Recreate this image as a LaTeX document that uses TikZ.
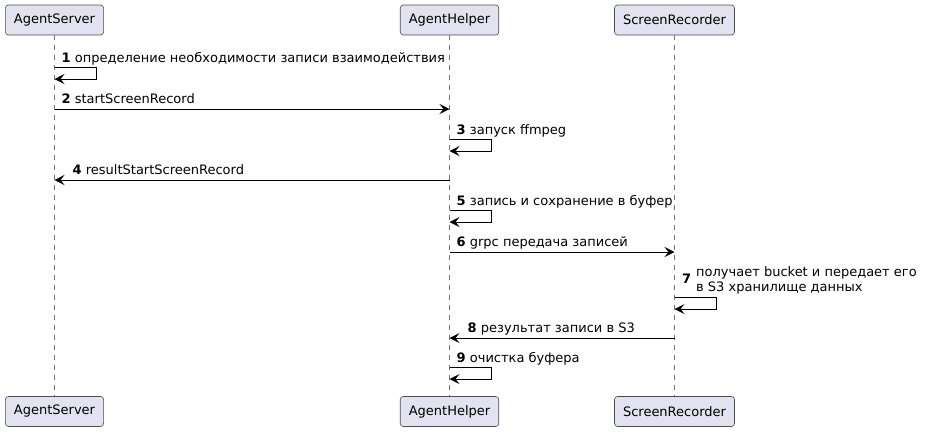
\documentclass[tikz,border=0pt]{standalone}
\usepackage{fontspec}
\setmainfont{DejaVu Sans}
\usetikzlibrary{arrows.meta}
\definecolor{boxfill}{HTML}{E2E2F0}
\tikzset{
  actor/.style={draw=black!70, line width=0.6pt, fill=boxfill, rounded corners=3pt,
    inner xsep=8.5pt, minimum height=30pt, font=\fontsize{13}{15}\selectfont},
  life/.style={black!55, line width=0.5pt, dash pattern=on 5pt off 5pt},
  msg/.style={-{Stealth[length=10pt,width=10pt,inset=4pt]}, line width=0.9pt},
  lbl/.style={font=\fontsize{13}{15}\selectfont, inner sep=0pt, anchor=base west}
}
\begin{document}
\begin{tikzpicture}[x=1pt,y=-1pt]
\useasboundingbox (0,0) rectangle (925,432);
\def\xs{54.5}
\def\xh{449.5}
\def\xr{674.5}

\def\ytop{20}
\def\ybot{411.5}

% participants
\node[actor] (st) at (\xs, \ytop) {AgentServer};
\node[actor] (ht) at (\xh, \ytop) {AgentHelper};
\node[actor] (rt) at (\xr, \ytop) {ScreenRecorder};
\node[actor] (sb) at (\xs, \ybot) {AgentServer};
\node[actor] (hb) at (\xh, \ybot) {AgentHelper};
\node[actor] (rb) at (\xr, \ybot) {ScreenRecorder};
\draw[life] (st) -- (sb);
\draw[life] (ht) -- (hb);
\draw[life] (rt) -- (rb);

% 1
\coordinate (a1) at (\xs, 67);
\coordinate (b1) at (\xs, 79);
\draw[msg] (a1) -- ++(42,0) |- (b1);
\node[lbl] (l1) at (\xs + 7, 62) {\textbf{1} определение необходимости записи взаимодействия};

% 2
\coordinate (a2) at (\xs, 109);
\coordinate (b2) at (\xh, 109);
\draw[msg] (a2) -- (b2);
\node[lbl] (l2) at (\xs + 7, 103) {\textbf{2} startScreenRecord};

% 3
\coordinate (a3) at (\xh, 139);
\coordinate (b3) at (\xh, 151);
\draw[msg] (a3) -- ++(42,0) |- (b3);
\node[lbl] (l3) at (\xh + 7, 134) {\textbf{3} запуск ffmpeg};

% 4
\coordinate (a4) at (\xh, 180);
\coordinate (b4) at (\xs, 180);
\draw[msg] (a4) -- (b4);
\node[lbl] (l4) at (\xs + 18, 174) {\textbf{4} resultStartScreenRecord};

% 5
\coordinate (a5) at (\xh, 210);
\coordinate (b5) at (\xh, 222);
\draw[msg] (a5) -- ++(42,0) |- (b5);
\node[lbl] (l5) at (\xh + 7, 205) {\textbf{5} запись и сохранение в буфер};

% 6
\coordinate (a6) at (\xh, 252);
\coordinate (b6) at (\xr, 252);
\draw[msg] (a6) -- (b6);
\node[lbl] (l6) at (\xh + 7, 246) {\textbf{6} grpc передача записей};

% 7
\coordinate (a7) at (\xr, 297);
\coordinate (b7) at (\xr, 309);
\draw[msg] (a7) -- ++(42,0) |- (b7);
\node[lbl] (l7) at (\xr + 7.5, 283.5) {\textbf{7}};
\node[lbl] (l7a) at (\xr + 21.5, 276.5) {получает bucket и передает его};
\node[lbl] (l7b) at (\xr + 21.5, 291) {в S3 хранилище данных};

% 8
\coordinate (a8) at (\xr, 338);
\coordinate (b8) at (\xh, 338);
\draw[msg] (a8) -- (b8);
\node[lbl] (l8) at (\xh + 18, 332) {\textbf{8} результат записи в S3};

% 9
\coordinate (a9) at (\xh, 367);
\coordinate (b9) at (\xh, 379);
\draw[msg] (a9) -- ++(42,0) |- (b9);
\node[lbl] (l9) at (\xh + 7, 362) {\textbf{9} очистка буфера};

\end{tikzpicture}
\end{document}
